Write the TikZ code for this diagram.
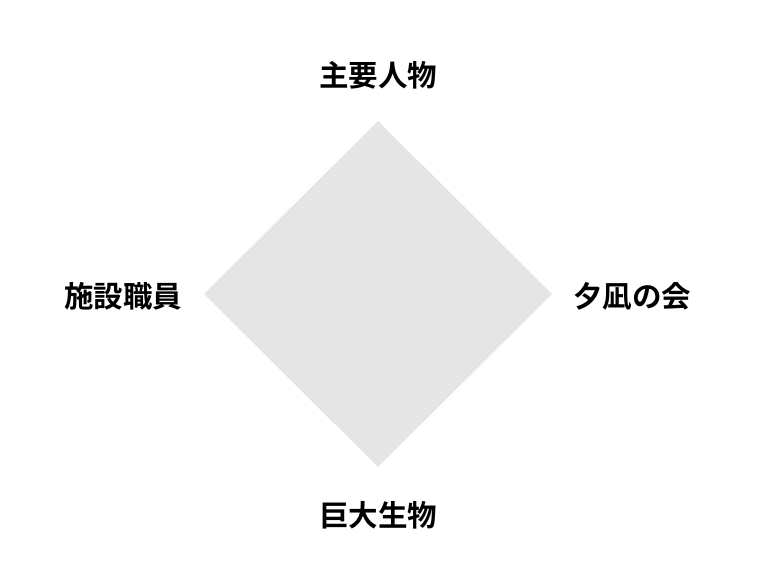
\documentclass[tikz,border=0pt]{standalone}
\usepackage{fontspec}
\newfontfamily\cjk{Noto Sans CJK JP}[BoldFont={Noto Sans CJK JP Bold}]
\definecolor{diamondgray}{HTML}{E5E5E5}
\begin{document}
\begin{tikzpicture}[x=1pt,y=-1pt,
  lbl/.style={font=\cjk\bfseries\fontsize{29.5}{31}\selectfont, text=black, inner sep=0pt}]
\useasboundingbox (0,0) rectangle (758,580);
\coordinate (t) at (378,121);
\coordinate (r) at (552,294);
\coordinate (b) at (378,467);
\coordinate (l) at (204,294);
\fill[diamondgray] (t) -- (r) -- (b) -- (l) -- cycle;
\node[lbl] (top) at (378,75) {主要人物};
\node[lbl] (bottom) at (378,515) {巨大生物};
\node[lbl] (left) at (123,296) {施設職員};
\node[lbl] (right) at (632,296) {夕凪の会};
\end{tikzpicture}
\end{document}
